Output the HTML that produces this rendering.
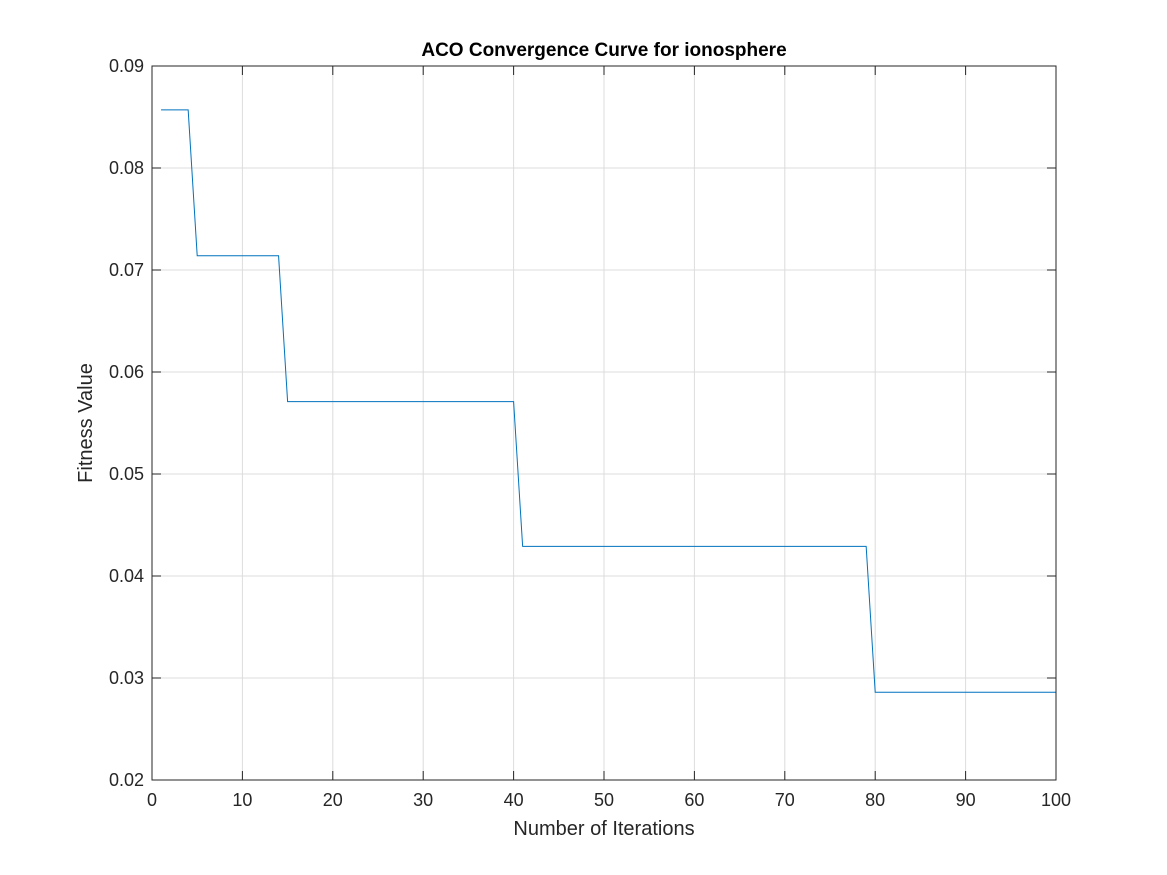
<!DOCTYPE html>
<html>
<head>
<meta charset="utf-8">
<style>
  html,body{margin:0;padding:0;background:#fff;}
  svg{display:block;font-family:"Liberation Sans",sans-serif;}
</style>
</head>
<body>
<svg id="chart" width="1167" height="875" viewBox="0 0 1167 875"></svg>
<script>
const xTicks = [0,10,20,30,40,50,60,70,80,90,100];
const yTicks = [0.02,0.03,0.04,0.05,0.06,0.07,0.08,0.09];
const yTickLabels = ["0.02","0.03","0.04","0.05","0.06","0.07","0.08","0.09"];
const iterations = [];
for (let i = 1; i <= 100; i++) iterations.push(i);
const fitness = [
0.0857,0.0857,0.0857,0.0857,
0.0714,0.0714,0.0714,0.0714,0.0714,0.0714,0.0714,0.0714,0.0714,0.0714,
0.0571,0.0571,0.0571,0.0571,0.0571,0.0571,0.0571,0.0571,0.0571,0.0571,
0.0571,0.0571,0.0571,0.0571,0.0571,0.0571,0.0571,0.0571,0.0571,0.0571,
0.0571,0.0571,0.0571,0.0571,0.0571,0.0571,
0.0429,0.0429,0.0429,0.0429,0.0429,0.0429,0.0429,0.0429,0.0429,0.0429,
0.0429,0.0429,0.0429,0.0429,0.0429,0.0429,0.0429,0.0429,0.0429,0.0429,
0.0429,0.0429,0.0429,0.0429,0.0429,0.0429,0.0429,0.0429,0.0429,0.0429,
0.0429,0.0429,0.0429,0.0429,0.0429,0.0429,0.0429,0.0429,0.0429,
0.0286,0.0286,0.0286,0.0286,0.0286,0.0286,0.0286,0.0286,0.0286,0.0286,
0.0286,0.0286,0.0286,0.0286,0.0286,0.0286,0.0286,0.0286,0.0286,0.0286,0.0286
];

const L=152,R=1056,T=66,B=780;
const xMin=0,xMax=100,yMin=0.02,yMax=0.09;
const sx=v=>L+(v-xMin)/(xMax-xMin)*(R-L);
const sy=v=>B-(v-yMin)/(yMax-yMin)*(B-T);
const NS="http://www.w3.org/2000/svg";
const svg=document.getElementById('chart');
function mk(tag,attrs,parent){const e=document.createElementNS(NS,tag);for(const k in attrs)e.setAttribute(k,attrs[k]);(parent||svg).appendChild(e);return e;}

const grid=mk('g',{});


xTicks.forEach(v=>{const x=sx(v);mk('line',{x1:x,x2:x,y1:T,y2:B,stroke:'#dcdcdc','stroke-width':1},grid);});
yTicks.forEach(v=>{const y=sy(v);mk('line',{x1:L,x2:R,y1:y,y2:y,stroke:'#dcdcdc','stroke-width':1},grid);});

let d='';
iterations.forEach((it,i)=>{d+=(i?'L':'M')+sx(it).toFixed(2)+','+sy(fitness[i]).toFixed(2);});
const line=mk('path',{d:d,fill:'none',stroke:'#0072bd','stroke-width':1});



const box=mk('rect',{x:L,y:T,width:R-L,height:B-T,fill:'none',stroke:'#262626','stroke-width':1});



const tk=9;
xTicks.forEach(v=>{
  const x=sx(v);
  mk('line',{x1:x,x2:x,y1:B,y2:B-tk,stroke:'#262626'});
  mk('line',{x1:x,x2:x,y1:T,y2:T+tk,stroke:'#262626'});
  const t=mk('text',{x:x,y:B+26,'text-anchor':'middle','font-size':18,fill:'#262626'});
  t.textContent=v;
  
  
});
yTicks.forEach((v,i)=>{
  const y=sy(v);
  mk('line',{x1:L,x2:L+tk,y1:y,y2:y,stroke:'#262626'});
  mk('line',{x1:R,x2:R-tk,y1:y,y2:y,stroke:'#262626'});
  const t=mk('text',{x:L-8,y:y+6,'text-anchor':'end','font-size':18,fill:'#262626'});
  t.textContent=yTickLabels[i];
  
  
});

const title=mk('text',{x:(L+R)/2,y:56,'text-anchor':'middle','font-size':19,'font-weight':'bold',fill:'#000'});
title.textContent='ACO Convergence Curve for ionosphere';



const xl=mk('text',{x:(L+R)/2,y:835,'text-anchor':'middle','font-size':20,fill:'#262626'});
xl.textContent='Number of Iterations';



const yl=mk('text',{x:0,y:0,'text-anchor':'middle','font-size':20,fill:'#262626',transform:'translate(92,'+((T+B)/2)+') rotate(-90)'});
yl.textContent='Fitness Value';


</script>
</body>
</html>
